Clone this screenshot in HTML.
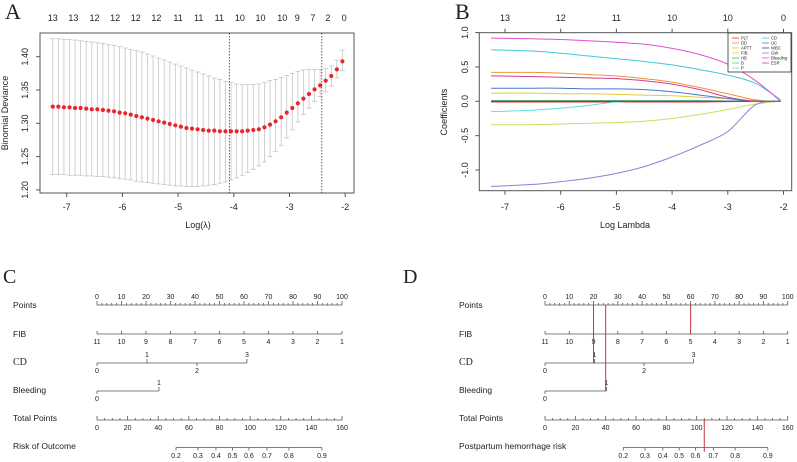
<!DOCTYPE html>
<html><head><meta charset="utf-8"><style>
body{margin:0;background:#fff}
svg{display:block;font-family:"Liberation Sans",Arial,sans-serif}
</style></head><body>
<svg id="fig" width="797" height="462" viewBox="0 0 797 462"></svg>
<script>
// ---------- Panel A data ----------
const cvLogLambda0 = -7.25, cvStep = 0.1;
const cvMean = [1.325,1.325,1.324,1.324,1.323,1.323,1.322,1.321,1.321,1.320,1.319,1.318,1.316,1.315,1.313,1.311,1.309,1.307,1.305,1.303,1.301,1.299,1.297,1.295,1.293,1.292,1.291,1.290,1.289,1.289,1.288,1.288,1.288,1.288,1.288,1.289,1.290,1.291,1.294,1.298,1.303,1.309,1.316,1.323,1.330,1.337,1.344,1.351,1.357,1.364,1.371,1.381,1.393];
const cvUpper = [1.427,1.427,1.426,1.426,1.425,1.424,1.423,1.422,1.421,1.420,1.418,1.417,1.415,1.413,1.411,1.409,1.407,1.404,1.401,1.398,1.395,1.392,1.389,1.386,1.383,1.380,1.377,1.374,1.371,1.368,1.366,1.363,1.361,1.359,1.358,1.358,1.358,1.359,1.361,1.364,1.366,1.369,1.372,1.375,1.378,1.380,1.381,1.381,1.381,1.382,1.386,1.395,1.410];
const cvLower = [1.223,1.223,1.223,1.222,1.222,1.222,1.221,1.221,1.220,1.220,1.219,1.218,1.217,1.216,1.215,1.213,1.212,1.211,1.210,1.209,1.208,1.207,1.206,1.206,1.205,1.205,1.205,1.206,1.207,1.208,1.210,1.212,1.215,1.218,1.222,1.226,1.231,1.236,1.242,1.250,1.258,1.267,1.278,1.290,1.302,1.313,1.323,1.333,1.340,1.347,1.356,1.368,1.379];
const cvTopCounts = ["13","13","12","12","12","12","11","11","11","10","10","10","9","7","2","0"];
const cvTopAt = [-7.25,-6.88,-6.5,-6.13,-5.76,-5.39,-5.0,-4.63,-4.26,-3.89,-3.52,-3.13,-2.86,-2.58,-2.31,-2.02];
const cvXTicks = [-7,-6,-5,-4,-3,-2];
const cvYTicks = [1.20,1.25,1.30,1.35,1.40];
const lambdaMin = -4.08, lambda1se = -2.42;

// ---------- Panel B data ----------
const pathGrid = [-7.25,-6.5,-6,-5.5,-5,-4.5,-4,-3.5,-3,-2.5,-2.05];
const pathNames = ["PLT","DD","APTT","FIB","HB","B","P","CD","UC","WBC","GW","Bleeding","ESR"];
const pathColors = ["#e0303a","#e8963a","#e8c83a","#c8e060","#40c040","#60d080","#60e0e0","#40c8d8","#4a78c8","#3a3a9a","#9a78d8","#e050d0","#d83a8a"];
const coefPLT = [-0.01,-0.01,-0.01,-0.01,-0.01,-0.01,-0.01,-0.01,-0.005,0,0];
const coefDD = [0.42,0.42,0.41,0.39,0.37,0.33,0.28,0.20,0.11,0.02,0];
const coefAPTT = [0.12,0.12,0.11,0.11,0.10,0.09,0.08,0.06,0.04,0.01,0];
const coefFIB = [-0.34,-0.34,-0.33,-0.32,-0.31,-0.29,-0.25,-0.19,-0.12,-0.04,0];
const coefHB = [0.01,0.01,0.01,0.01,0.01,0.01,0.01,0.01,0.005,0,0];
const coefB = [0,0,0,0,0,0,0,0,0,0,0];
const coefP = [-0.15,-0.13,-0.10,-0.06,-0.01,0,0,0,0,0,0];
const coefCD = [0.75,0.73,0.70,0.66,0.62,0.58,0.53,0.46,0.38,0.26,0.02];
const coefUC = [0.19,0.19,0.19,0.18,0.18,0.17,0.14,0.09,0.04,0,0];
const coefWBC = [0,0,0,0,0,0,0,0,0,0,0];
const coefGW = [-1.24,-1.21,-1.17,-1.12,-1.05,-0.95,-0.81,-0.64,-0.44,-0.05,0];
const coefBleeding = [0.92,0.91,0.90,0.88,0.86,0.83,0.77,0.68,0.54,0.30,0];
const coefESR = [0.37,0.36,0.35,0.34,0.33,0.30,0.25,0.17,0.06,0,0];
const pathTopCounts = ["13","12","11","10","10","0"];
const pathXTicks = [-7,-6,-5,-4,-3,-2];
const pathYTicks = [-1.0,-0.5,0.0,0.5,1.0];

// ---------- Nomogram data ----------
const pointsTicks = [0,10,20,30,40,50,60,70,80,90,100];
const fibValues = [11,10,9,8,7,6,5,4,3,2,1];
const fibPoints = [0,10,20,30,40,50,60,70,80,90,100];
const cdValues = [0,1,2,3];
const cdPoints = [0,20.4,40.8,61.2];
const bleedValues = [0,1];
const bleedPoints = [0,25.3];
const totalTicks = [0,20,40,60,80,100,120,140,160];
const riskTicks = [0.2,0.3,0.4,0.5,0.6,0.7,0.8,0.9];
const riskIntercept = -3.326, riskSlope = 0.0376;
const examplePoints = [20,25,60];
const exampleTotal = 105;

const svg = document.getElementById('fig');
const NS = 'http://www.w3.org/2000/svg';
function mk(tag, attrs, parent){const e=document.createElementNS(NS,tag);for(const k in attrs)e.setAttribute(k,attrs[k]);(parent||svg).appendChild(e);return e;}
function txt(s,x,y,size,anchor,parent,extra){const t=mk('text',Object.assign({x:x,y:y,'font-size':size,'text-anchor':anchor||'middle',fill:'#222'},extra||{}),parent);t.textContent=s;return t;}
function smoothPath(pts){
  let d='M'+pts[0][0].toFixed(1)+','+pts[0][1].toFixed(1);
  for(let i=0;i<pts.length-1;i++){
    const p0=pts[Math.max(0,i-1)],p1=pts[i],p2=pts[i+1],p3=pts[Math.min(pts.length-1,i+2)];
    const c1=[p1[0]+(p2[0]-p0[0])/6,p1[1]+(p2[1]-p0[1])/6];
    const c2=[p2[0]-(p3[0]-p1[0])/6,p2[1]-(p3[1]-p1[1])/6];
    d+='C'+c1[0].toFixed(1)+','+c1[1].toFixed(1)+' '+c2[0].toFixed(1)+','+c2[1].toFixed(1)+' '+p2[0].toFixed(1)+','+p2[1].toFixed(1);
  }
  return d;
}

// ===== Panel A =====
(function(){
  const g = mk('g',{});
  
  
  const X = v => 66.7 + (v + 7) * 55.7;
  const Y = v => 56.7 + (1.40 - v) / 0.05 * 33.3;
  const lab = txt('A',5,19,22,'start',g,{'font-family':'Liberation Serif,serif'});
  
  
  const box = mk('rect',{x:40,y:33,width:314,height:160,fill:'none',stroke:'#555','stroke-width':1},g);
  
  
  cvMean.forEach((m,i)=>{
    const lx = cvLogLambda0 + i*cvStep, x = X(lx);
    const bar = mk('line',{x1:x,x2:x,y1:Y(cvUpper[i]),y2:Y(cvLower[i]),stroke:'#c4c4c4','stroke-width':0.8},g);
    
    
    mk('line',{x1:x-2.5,x2:x+2.5,y1:Y(cvUpper[i]),y2:Y(cvUpper[i]),stroke:'#c4c4c4','stroke-width':0.8},g);
    mk('line',{x1:x-2.5,x2:x+2.5,y1:Y(cvLower[i]),y2:Y(cvLower[i]),stroke:'#c4c4c4','stroke-width':0.8},g);
  });
  cvMean.forEach((m,i)=>{
    const pt = mk('circle',{cx:X(cvLogLambda0+i*cvStep),cy:Y(m),r:2.1,fill:'#e8262c'},g);
    
    
  });
  [lambdaMin,lambda1se].forEach(v=>{
    const l = mk('line',{x1:X(v),x2:X(v),y1:33,y2:193,stroke:'#333','stroke-width':0.8,'stroke-dasharray':'1.5,1.5'},g);
    
    
  });
  cvXTicks.forEach(v=>{mk('line',{x1:X(v),x2:X(v),y1:193,y2:197,stroke:'#555'},g);txt(String(v),X(v),210,9,'middle',g);});
  cvYTicks.forEach(v=>{mk('line',{x1:36,x2:40,y1:Y(v),y2:Y(v),stroke:'#555'},g);txt(v.toFixed(2),28,Y(v),9,'middle',g,{transform:'rotate(-90 28 '+Y(v)+')'});});
  cvTopCounts.forEach((c,i)=>txt(c,X(cvTopAt[i]),21,9,'middle',g));
  const xt = txt('Log(λ)',198,228,9,'middle',g);  
  const yt = txt('Binomial Deviance',8,113,9,'middle',g,{transform:'rotate(-90 8 113)'});  
})();

// ===== Panel B =====
(function(){
  const g = mk('g',{});
  
  
  const X = v => 505 + (v + 7) * 55.7;
  const Y = v => 101.3 - v * 68.7;
  const lab = txt('B',455,19,22,'start',g,{'font-family':'Liberation Serif,serif'});
  
  
  const series = [coefPLT,coefDD,coefAPTT,coefFIB,coefHB,coefB,coefP,coefCD,coefUC,coefWBC,coefGW,coefBleeding,coefESR];
  series.forEach((s,k)=>{
    const pts = s.map((v,i)=>[X(pathGrid[i]),Y(v)]);
    const p = mk('path',{d:smoothPath(pts),fill:'none',stroke:pathColors[k],'stroke-width':1},g);
    
    
  });
  const box = mk('rect',{x:479.3,y:32.7,width:312.4,height:158,fill:'none',stroke:'#555','stroke-width':1},g);
  
  
  pathXTicks.forEach((v,i)=>{mk('line',{x1:X(v),x2:X(v),y1:190.7,y2:194.7,stroke:'#555'},g);txt(String(v),X(v),210,9,'middle',g);
    mk('line',{x1:X(v),x2:X(v),y1:32.7,y2:28.7,stroke:'#555'},g);txt(pathTopCounts[i],X(v),21,9,'middle',g);});
  pathYTicks.forEach(v=>{mk('line',{x1:475.3,x2:479.3,y1:Y(v),y2:Y(v),stroke:'#555'},g);txt(v.toFixed(1),468,Y(v),9,'middle',g,{transform:'rotate(-90 468 '+Y(v)+')'});});
  const lg = mk('g',{},g);
  
  
  mk('rect',{x:728,y:33,width:63,height:39,fill:'#fff',stroke:'#333','stroke-width':0.8},lg);
  pathNames.forEach((n,k)=>{
    const col = k<7?0:1, row = k<7?k:k-7;
    const x = 732 + col*30, y = 38 + row*5;
    const e = mk('g',{},lg);
    
    
    mk('line',{x1:x,x2:x+7,y1:y,y2:y,stroke:pathColors[k],'stroke-width':0.8},e);
    txt(n,x+9,y+1.5,4.2,'start',e);
  });
  const xt = txt('Log Lambda',625,228,9,'middle',g);  
  const yt = txt('Coefficients',447,112,9,'middle',g,{transform:'rotate(-90 447 112)'});  
})();

// ===== Nomograms =====
function nomogram(ox, x0, x1, labelX, letter, riskLabel, withExample, name){
  const g = mk('g',{});
  
  
  const P = v => x0 + v/100*(x1-x0);
  const T = v => x0 + v/160*(x1-x0);
  const tpOfRisk = p => (Math.log(p/(1-p)) - riskIntercept)/riskSlope;
  const lab = txt(letter,ox+3,283,20,'start',g,{'font-family':'Liberation Serif,serif'});
  
  
  const stroke = {stroke:'#555','stroke-width':0.8};
  const rowLabel=(s,y,serif)=>{const t=txt(s,labelX,y,serif?10:8.5,'start',g,serif?{'font-family':'Liberation Serif,serif'}:{});};
  rowLabel('Points',308,false);
  mk('line',Object.assign({x1:x0,x2:x1,y1:305,y2:305},stroke),g);
  for(let v=0;v<=100;v+=2){const major=v%10===0;mk('line',Object.assign({x1:P(v),x2:P(v),y1:305,y2:major?301:303},stroke),g);}
  pointsTicks.forEach(v=>txt(String(v),P(v),299,7,'middle',g));
  rowLabel('FIB',337,false);
  mk('line',Object.assign({x1:x0,x2:x1,y1:334,y2:334},stroke),g);
  fibValues.forEach((v,i)=>{mk('line',Object.assign({x1:P(fibPoints[i]),x2:P(fibPoints[i]),y1:334,y2:331},stroke),g);txt(String(v),P(fibPoints[i]),344,7,'middle',g);});
  rowLabel('CD',365,true);
  mk('line',Object.assign({x1:x0,x2:P(cdPoints[3]),y1:363,y2:363},stroke),g);
  cdValues.forEach((v,i)=>{const up=i%2===1;mk('line',Object.assign({x1:P(cdPoints[i]),x2:P(cdPoints[i]),y1:363,y2:up?359:366},stroke),g);txt(String(v),P(cdPoints[i]),up?357:373,7,'middle',g);});
  rowLabel('Bleeding',393,false);
  mk('line',Object.assign({x1:x0,x2:P(bleedPoints[1]),y1:391,y2:391},stroke),g);
  bleedValues.forEach((v,i)=>{const up=i===1;mk('line',Object.assign({x1:P(bleedPoints[i]),x2:P(bleedPoints[i]),y1:391,y2:up?387:394},stroke),g);txt(String(v),P(bleedPoints[i]),up?385:401,7,'middle',g);});
  rowLabel('Total Points',421,false);
  mk('line',Object.assign({x1:x0,x2:x1,y1:420,y2:420},stroke),g);
  for(let v=0;v<=160;v+=5){const major=v%20===0;mk('line',Object.assign({x1:T(v),x2:T(v),y1:420,y2:major?416:418},stroke),g);}
  totalTicks.forEach(v=>txt(String(v),T(v),430,7,'middle',g));
  rowLabel(riskLabel,449,false);
  mk('line',Object.assign({x1:T(tpOfRisk(riskTicks[0])),x2:T(tpOfRisk(riskTicks[riskTicks.length-1])),y1:447.5,y2:447.5},stroke),g);
  riskTicks.forEach(v=>{const x=T(tpOfRisk(v));mk('line',Object.assign({x1:x,x2:x,y1:447.5,y2:450.5},stroke),g);txt(String(v),x,458,7,'middle',g);});
  if(withExample){
    const ends=[363,391,334];
    examplePoints.forEach((v,i)=>{const l=mk('line',{x1:P(v),x2:P(v),y1:305,y2:ends[i],stroke:'#c8323a','stroke-width':1},g);
      
      });
    const l=mk('line',{x1:T(exampleTotal),x2:T(exampleTotal),y1:420,y2:452,stroke:'#c8323a','stroke-width':1},g);
    
    
  }
}
nomogram(0,97,342,13,'C','Risk of Outcome',false,'panel-c-nomogram');
nomogram(400,545,787.7,459,'D','Postpartum hemorrhage risk',true,'panel-d-nomogram');
</script>
</body></html>
